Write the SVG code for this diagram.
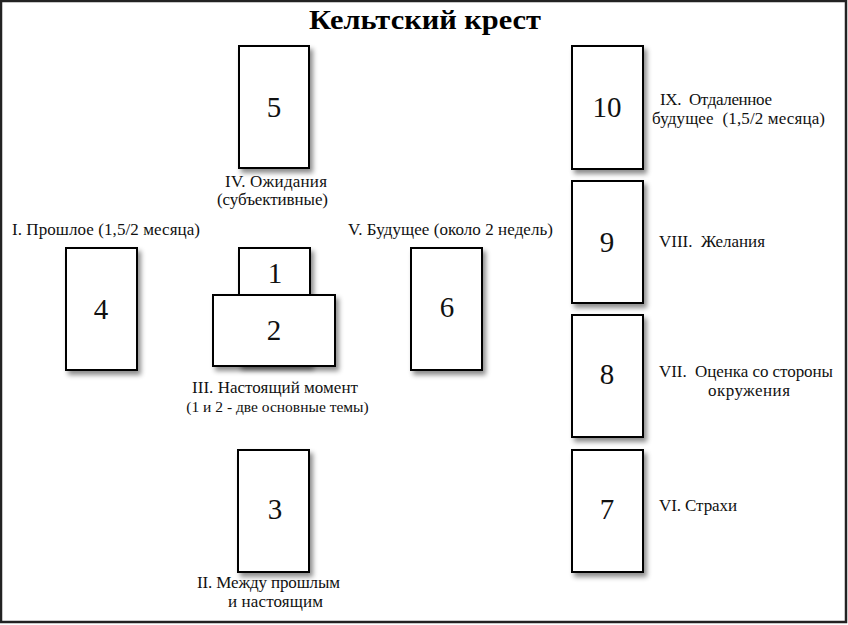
<svg xmlns="http://www.w3.org/2000/svg" width="848" height="625" viewBox="0 0 848 625">
<defs>
<filter id="sh" x="-20%" y="-20%" width="150%" height="150%">
<feDropShadow dx="3" dy="4" stdDeviation="2.5" flood-color="#000" flood-opacity="0.45"/>
</filter>
<style>
.card{fill:#fff;stroke:#000;stroke-width:2;filter:url(#sh)}
.num{font-family:"Liberation Serif","DejaVu Serif",serif;font-size:29px;fill:#111;text-anchor:middle}
.lbl{font-family:"Liberation Serif","DejaVu Serif",serif;font-size:17px;fill:#111}
.c{text-anchor:middle}
.title{font-family:"Liberation Serif","DejaVu Serif",serif;font-size:28px;font-weight:bold;fill:#000;text-anchor:middle}
</style>
</defs>
<rect x="0" y="0" width="848" height="625" fill="#fff"/>
<rect x="1" y="1" width="845" height="621" fill="none" stroke="#222" stroke-width="2.5"/>
<text class="title" x="425" y="29" textLength="232" lengthAdjust="spacingAndGlyphs">Кельтский крест</text>
<g id="card5"><rect class="card" x="239" y="46" width="70" height="122"/><text class="num" x="274" y="117">5</text>
<text class="lbl c" x="276" y="187" textLength="102">IV. Ожидания</text><text class="lbl c" x="272.5" y="205" textLength="111">(субъективные)</text></g>
<g id="card4"><rect class="card" x="66" y="248" width="71" height="122"/><text class="num" x="101" y="319">4</text>
<text class="lbl" x="12" y="235" textLength="188">I. Прошлое (1,5/2 месяца)</text></g>
<g id="card1"><rect class="card" x="239" y="248" width="71" height="117"/><text class="num" x="275" y="283">1</text></g>
<g id="card2"><rect class="card" x="213" y="295" width="122" height="71"/><text class="num" x="274" y="340">2</text>
<text class="lbl c" x="275" y="393" textLength="166">III. Настоящий момент</text><text class="lbl c" x="277.5" y="412" style="font-size:15.5px">(1 и 2 - две основные темы)</text></g>
<g id="card6"><rect class="card" x="411" y="248" width="71" height="122"/><text class="num" x="447" y="317">6</text>
<text class="lbl" x="348" y="235" textLength="205">V. Будущее (около 2 недель)</text></g>
<g id="card3"><rect class="card" x="238" y="450" width="71" height="122"/><text class="num" x="275" y="519">3</text>
<text class="lbl c" x="268.5" y="588" textLength="143">II. Между прошлым</text><text class="lbl c" x="275.5" y="607" textLength="95">и настоящим</text></g>
<g id="card10"><rect class="card" x="572" y="46" width="71" height="123"/><text class="num" x="607" y="117">10</text>
<text class="lbl" x="660" y="105" xml:space="preserve" textLength="112">IX.  Отдаленное</text><text class="lbl" x="652" y="124" xml:space="preserve" textLength="173">будущее  (1,5/2 месяца)</text></g>
<g id="card9"><rect class="card" x="572" y="181" width="71" height="122"/><text class="num" x="607" y="252">9</text>
<text class="lbl" x="659" y="247" xml:space="preserve" textLength="106">VIII.  Желания</text></g>
<g id="card8"><rect class="card" x="572" y="315" width="71" height="122"/><text class="num" x="607" y="384">8</text>
<text class="lbl c" x="746" y="377" xml:space="preserve" textLength="174">VII.  Оценка со стороны</text><text class="lbl c" x="749" y="396" textLength="82">окружения</text></g>
<g id="card7"><rect class="card" x="572" y="450" width="71" height="122"/><text class="num" x="607" y="519">7</text>
<text class="lbl" x="659" y="511" textLength="78">VI. Страхи</text></g>
<g id="connectors"></g>
</svg>
